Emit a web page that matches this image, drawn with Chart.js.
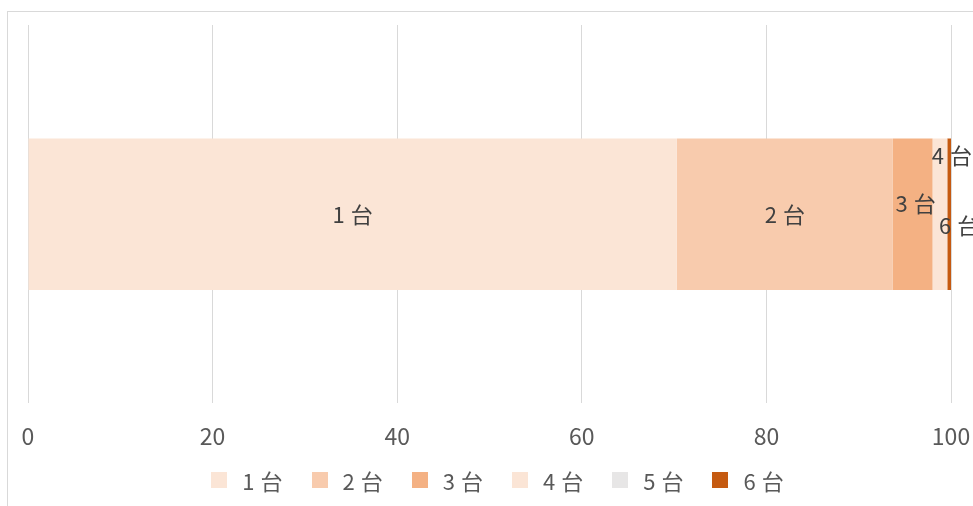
<!DOCTYPE html>
<html>
<head>
<meta charset="utf-8">
<script src="https://cdn.jsdelivr.net/npm/chart.js@4.4.1/dist/chart.umd.min.js"></script>
<style>
  html, body { margin: 0; padding: 0; background: #fff; width: 973px; height: 506px; overflow: hidden; }
  #frame { position: absolute; left: 7px; top: 11px; width: 1100px; height: 700px; border: 1px solid #d9d9d9; }
  #wrap { position: absolute; left: 0; top: 0; width: 1000px; height: 506px; }
  #legend { position: absolute; left: 0; top: 466px; width: 1000px; display: flex; justify-content: center;
            font-family: "Noto Sans CJK JP", sans-serif; font-size: 22px; line-height: 28px; color: #595959; letter-spacing: 6px; }
  #legend .item { display: flex; align-items: center; margin: 0 11px 0 12px; }
  #legend .box { width: 16px; height: 16px; margin-right: 15px; }
</style>
</head>
<body>
<div id="frame"></div>
<div id="wrap"><canvas id="grafico" width="1000" height="506"></canvas></div>
<div id="legend"></div>
<script>
const categorias = [''];
const series = ['1台', '2台', '3台', '4台', '5台', '6台'];
const valores = [70.3, 23.4, 4.3, 1.6, 0, 0.4];
const cores = ['#fbe5d6', '#f8cbad', '#f4b183', '#fbe5d6', '#e7e6e6', '#c55a11'];
const ticksX = [0, 20, 40, 60, 80, 100];

// deslocamento dos rótulos (como o Excel afasta os rótulos que colidem)
const deslocRotulos = [[0, 0], [0, 0], [3, -11], [12, -59], [0, 0], [10, 11]];

const rotulos = {
    id: 'rotulos',
    afterDatasetsDraw(chart) {
        const ctx = chart.ctx;
        ctx.save();
        ctx.font = '22px "Noto Sans CJK JP", sans-serif';
        ctx.fillStyle = '#404040';
        ctx.textAlign = 'center';
        ctx.textBaseline = 'middle';
        ctx.letterSpacing = '6px';
        chart.data.datasets.forEach((ds, i) => {
            if (!ds.data[0]) return;
            const bar = chart.getDatasetMeta(i).data[0];
            const x = (bar.x + bar.base) / 2 + deslocRotulos[i][0];
            const y = bar.y + deslocRotulos[i][1];
            ctx.fillText(ds.label, x + 3, y);
        });
        ctx.restore();
    }
};

const ctx = document.getElementById('grafico').getContext('2d');
new Chart(ctx, {
    type: 'bar',
    data: {
        labels: categorias,
        datasets: series.map((s, i) => ({
            label: s,
            data: [valores[i]],
            backgroundColor: cores[i],
            categoryPercentage: 1,
            barPercentage: 0.4
        }))
    },
    options: {
        indexAxis: 'y',
        responsive: false,
        animation: false,
        layout: { padding: { left: 28, right: 49, top: 25, bottom: 37 } },
        plugins: { legend: { display: false }, tooltip: { enabled: false } },
        scales: {
            x: {
                stacked: true,
                min: 0, max: 100,
                afterBuildTicks: (axis) => { axis.ticks = ticksX.map(v => ({ value: v })); },
                grid: { color: '#d9d9d9', drawTicks: false },
                border: { display: false },
                ticks: { padding: 19, color: '#595959', font: { family: '"Liberation Sans Narrow", "Noto Sans CJK JP"', size: 23 } }
            },
            y: { stacked: true, display: false }
        }
    },
    plugins: [rotulos]
});

const legenda = document.getElementById('legend');
series.forEach((s, i) => {
    const item = document.createElement('div');
    item.className = 'item';
    item.innerHTML = '<span class="box" style="background:' + cores[i] + '"></span><span>' + s + '</span>';
    legenda.appendChild(item);
});
</script>
</body>
</html>
